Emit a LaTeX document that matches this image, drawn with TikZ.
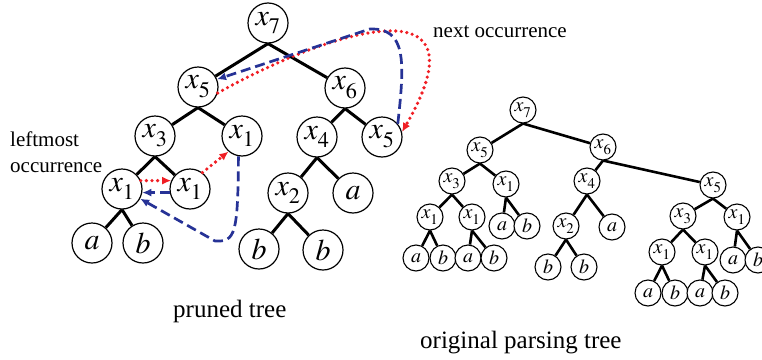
\documentclass[tikz,border=0pt]{standalone}
\usepackage{mathptmx}
\usepackage{fontspec}
\setmainfont{Liberation Serif}
\usepackage{tikz}
\usetikzlibrary{arrows.meta,backgrounds}
\definecolor{occred}{RGB}{240,30,36}
\definecolor{occblue}{RGB}{38,50,150}
\newcommand{\xv}[1]{$x_{\lower0.14em\hbox{$\scriptstyle #1$}}$}
\tikzstyle{tree}=[
  x=1pt,y=-1pt,line join=round
]
\tikzstyle{bignode}=[
  draw,circle,line width=1.2pt,inner sep=0pt,minimum size=40pt,fill=white,font=\fontsize{30}{31}\selectfont
]
\tikzstyle{smallnode}=[
  draw,circle,line width=1.1pt,inner sep=0pt,minimum size=26pt,fill=white,font=\fontsize{20}{21}\selectfont
]
\tikzstyle{treeedge}=[
    line width=3pt
]
\tikzstyle{nextedge}=[
    occred,line width=3.6pt,line cap=round,dash pattern=on 0pt off 5.6pt,-{Latex[length=9pt,width=8pt]}
]
\tikzstyle{backedge}=[
    occblue,line width=2.7pt,dash pattern=on 10pt off 5pt,-{Latex[length=9pt,width=8pt]}
]
\tikzstyle{notetext}=[
  inner sep=0pt,font=\fontsize{21}{26}\selectfont
]
\tikzstyle{titletext}=[
  inner sep=0pt,font=\fontsize{25}{30}\selectfont
]

\begin{document}
\begin{tikzpicture}[tree]
        \useasboundingbox (0,0) rectangle (762,359);
        % pruned tree
        \node (x7) at (268,23) [bignode] {\xv{7}};
        \node (x5) at (198,87) [bignode] {\xv{5}};
        \node (x6) at (345,88) [bignode] {\xv{6}};
        \node (x3) at (155,136) [bignode] {\xv{3}};
        \node (x1) at (242,136) [bignode] {\xv{1}};
        \node (x4) at (317,137) [bignode] {\xv{4}};
        \node (x5b) at (382,137) [bignode] {\xv{5}};
        \node (x1l) at (122,189) [bignode] {\xv{1}};
        \node (x1r) at (190,189) [bignode] {\xv{1}};
        \node (x2) at (288,193) [bignode] {\xv{2}};
        \node (a1) at (353,193) [bignode] {$a$};
        \node (a2) at (92,243) [bignode] {$a$};
        \node (b1) at (143,243) [bignode] {$b$};
        \node (b2) at (259,249) [bignode] {$b$};
        \node (b3) at (323,250) [bignode] {$b$};

        % original parsing tree
        \node (o7) at (523,110) [smallnode] {\xv{7}};
        \node (o5) at (480,150) [smallnode] {\xv{5}};
        \node (o6) at (603,147) [smallnode] {\xv{6}};
        \node (o3) at (452,181) [smallnode] {\xv{3}};
        \node (o1) at (506,184) [smallnode] {\xv{1}};
        \node (o4) at (587,181) [smallnode] {\xv{4}};
        \node (o5b) at (713,185) [smallnode] {\xv{5}};
        \node (o1a) at (430,217) [smallnode] {\xv{1}};
        \node (o1b) at (472,217) [smallnode] {\xv{1}};
        \node (oa1) at (502,226) [smallnode] {$a$};
        \node (ob1) at (527,226) [smallnode] {$b$};
        \node (o2) at (566,226) [smallnode] {\xv{2}};
        \node (oa2) at (612,227) [smallnode] {$a$};
        \node (o3b) at (683,216) [smallnode] {\xv{3}};
        \node (o1c) at (737,217) [smallnode] {\xv{1}};
        \node (oa3) at (416,258) [smallnode] {$a$};
        \node (ob3) at (443,258) [smallnode] {$b$};
        \node (oa4) at (468,258) [smallnode] {$a$};
        \node (ob4) at (494,258) [smallnode] {$b$};
        \node (ob5) at (548,267) [smallnode] {$b$};
        \node (ob6) at (584,267) [smallnode] {$b$};
        \node (o1d) at (662,252) [smallnode] {\xv{1}};
        \node (o1e) at (705,252) [smallnode] {\xv{1}};
        \node (oa5) at (733,260) [smallnode] {$a$};
        \node (ob7) at (758,260) [smallnode] {$b$};
        \node (oa6) at (648,293) [smallnode] {$a$};
        \node (ob8) at (675,293) [smallnode] {$b$};
        \node (oa7) at (700,293) [smallnode] {$a$};
        \node (ob9) at (725,293) [smallnode] {$b$};

        \node (lm) at (10,131.5) [notetext,anchor=north west,align=left] {leftmost\\occurrence};
        \node (no) at (433,37) [notetext,anchor=base west] {next occurrence};
        \node (pt) at (173,317) [titletext,anchor=base west] {pruned tree};
        \node (op) at (420,348) [titletext,anchor=base west] {original parsing tree};

        \begin{scope}[on background layer]
          \foreach \p/\c in {x7/x5,x7/x6,x5/x3,x5/x1,x6/x4,x6/x5b,x3/x1l,x3/x1r,
                             x1l/a2,x1l/b1,x4/x2,x4/a1,x2/b2,x2/b3}
            \draw [treeedge] (\p.south) -- (\c);
          \foreach \p/\c in {o7/o5,o7/o6,o5/o3,o5/o1,o3/o1a,o3/o1b,o1/oa1,o1/ob1,
                             o1a/oa3,o1a/ob3,o1b/oa4,o1b/ob4,o6/o4,o6/o5b,o4/o2,o4/oa2,
                             o2/ob5,o2/ob6,o5b/o3b,o5b/o1c,o3b/o1d,o3b/o1e,o1c/oa5,o1c/ob7,
                             o1d/oa6,o1d/ob8,o1e/oa7,o1e/ob9}
            \draw [treeedge,line width=2.6pt] (\p.south) -- (\c);
        \end{scope}

        % occurrence links
        \draw [nextedge] (x1l.24) -- (x1r.156);
        \draw [backedge] (x1r.190) -- (x1l.-10);
        \draw [nextedge] (x1r.53) -- (x1.-131);
        \draw [backedge] (x1.-100) .. controls (238,235) and (235,242) .. (215,241) -- (x1l.-28);
        \draw [nextedge] (x5.-17) .. controls (330,30) and (490,-20) .. (x5b.14);
        \draw [backedge] (x5b.40) .. controls (405,60) and (406,28) .. (370,29) -- (x5.22);
\end{tikzpicture}
\end{document}
